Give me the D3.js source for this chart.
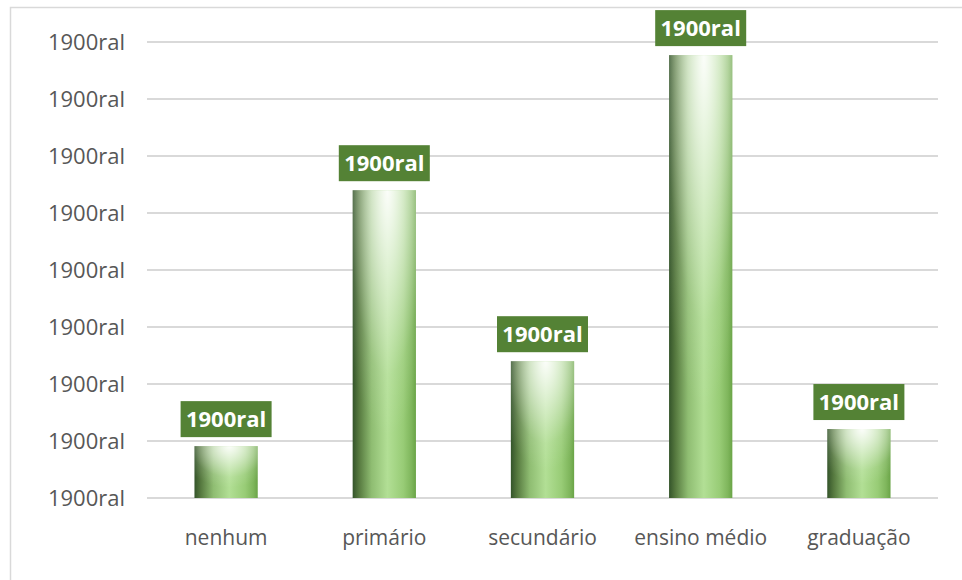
<!DOCTYPE html>
<html>
<head>
<meta charset="utf-8">
<script src="https://cdn.jsdelivr.net/npm/d3@7"></script>
<style>
  html, body { margin: 0; padding: 0; background: #ffffff; }
  svg { display: block; font-family: "Open Sans", "Noto Sans", sans-serif; }
</style>
</head>
<body>
<svg id="chart" width="962" height="580"></svg>
<script>
// Education level categories and their bar heights (in gridline units)
const categories = ["nenhum", "primário", "secundário", "ensino médio", "graduação"];
const values = [0.91, 5.40, 2.40, 7.77, 1.21];
// Text shown in each value badge
const valueLabels = ["1900ral", "1900ral", "1900ral", "1900ral", "1900ral"];
// Tick values and the text shown for each on the vertical axis
const tickValues = [0, 1, 2, 3, 4, 5, 6, 7, 8];
const tickLabels = ["1900ral", "1900ral", "1900ral", "1900ral", "1900ral", "1900ral", "1900ral", "1900ral", "1900ral"];

const svg = d3.select("#chart");
const W = 962, H = 580;
const margin = { left: 147, right: 24, top: 42, bottom: 82 };

// Outer frame (only the top and left edges fall inside the page)
svg.append("rect")
  .attr("x", 10.5).attr("y", 7.5)
  .attr("width", W + 20).attr("height", H + 20)
  .attr("fill", "none").attr("stroke", "#d9d9d9").attr("stroke-width", 1.5);

const x = d3.scaleBand()
  .domain(categories)
  .range([margin.left, W - margin.right])
  .paddingInner(0.6).paddingOuter(0.3);

const y = d3.scaleLinear()
  .domain([0, 8])
  .range([H - margin.bottom, margin.top]);

// Gradients for the bars: a green cylinder shading plus a light top highlight
const defs = svg.append("defs");
const hg = defs.append("linearGradient").attr("id", "barH")
  .attr("x1", "0%").attr("x2", "100%").attr("y1", "0%").attr("y2", "0%");
[
  [0, "#34542a"], [0.1, "#56793f"], [0.3, "#8fbd72"], [0.55, "#b2df95"],
  [0.8, "#98cc76"], [0.93, "#7fb65c"], [1, "#6aa447"]
].forEach(([o, c]) => hg.append("stop").attr("offset", o).attr("stop-color", c));

const rg = defs.append("radialGradient").attr("id", "barHi")
  .attr("cx", "55%").attr("cy", "0%").attr("r", "80%")
  .attr("gradientUnits", "objectBoundingBox");
rg.append("stop").attr("offset", 0).attr("stop-color", "#ffffff").attr("stop-opacity", 0.95);
rg.append("stop").attr("offset", 0.35).attr("stop-color", "#ffffff").attr("stop-opacity", 0.55);
rg.append("stop").attr("offset", 0.75).attr("stop-color", "#ffffff").attr("stop-opacity", 0.1);
rg.append("stop").attr("offset", 1).attr("stop-color", "#ffffff").attr("stop-opacity", 0);

// Horizontal gridlines
svg.append("g").selectAll("line")
  .data(tickValues).join("line")
  .attr("x1", margin.left).attr("x2", W - margin.right)
  .attr("y1", d => y(d)).attr("y2", d => y(d))
  .attr("stroke", "#d9d9d9").attr("stroke-width", 2);

// Vertical axis labels
const yAxis = d3.axisLeft(y)
  .tickValues(tickValues)
  .tickFormat((d, i) => tickLabels[i])
  .tickSize(0).tickPadding(22);
const gy = svg.append("g").attr("transform", `translate(${margin.left},0)`).call(yAxis);
gy.select(".domain").remove();
gy.selectAll("text")
  .attr("fill", "#575757").attr("font-size", 22)
  .attr("font-family", "\"Open Sans\", sans-serif");

// Category axis labels
const xAxis = d3.axisBottom(x).tickSize(0).tickPadding(32);
const gx = svg.append("g").attr("transform", `translate(0,${y(0)})`).call(xAxis);
gx.select(".domain").remove();
gx.selectAll("text")
  .attr("fill", "#575757").attr("font-size", 21)
  .attr("font-family", "\"Open Sans\", sans-serif");

// Bars
const bars = svg.append("g").selectAll("g")
  .data(categories.map((c, i) => ({ c, v: values[i], label: valueLabels[i] })))
  .join("g");

bars.append("rect")
  .attr("x", d => x(d.c)).attr("width", x.bandwidth())
  .attr("y", d => y(d.v)).attr("height", d => y(0) - y(d.v))
  .attr("fill", "url(#barH)");
bars.append("rect")
  .attr("x", d => x(d.c)).attr("width", x.bandwidth())
  .attr("y", d => y(d.v)).attr("height", d => y(0) - y(d.v))
  .attr("fill", "url(#barHi)");

// Value badges
const bw = 91, bh = 36, gap = 9;
bars.append("rect")
  .attr("x", d => x(d.c) + x.bandwidth() / 2 - bw / 2)
  .attr("y", d => y(d.v) - gap - bh)
  .attr("width", bw).attr("height", bh)
  .attr("fill", "#548235");
bars.append("text")
  .attr("x", d => x(d.c) + x.bandwidth() / 2)
  .attr("y", d => y(d.v) - gap - bh / 2)
  .attr("dy", "0.36em")
  .attr("text-anchor", "middle")
  .attr("fill", "#ffffff")
  .attr("font-size", 22).attr("font-weight", "bold")
  .attr("font-family", "\"Open Sans\", sans-serif")
  .text(d => d.label);
</script>
</body>
</html>
